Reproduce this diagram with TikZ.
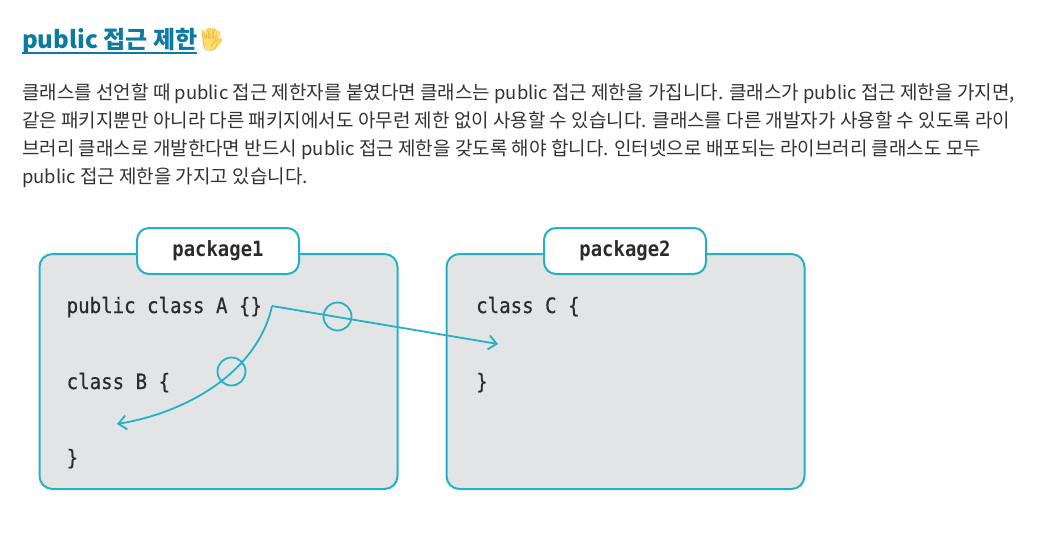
\documentclass[tikz,border=0pt]{standalone}
\usepackage{fontspec}
\usetikzlibrary{arrows.meta}
\setmainfont{Noto Sans CJK KR}
\newfontfamily\codefont[FakeStretch=0.9,FakeBold=0.5]{DejaVu Sans Mono}
\newfontfamily\tabfont[FakeStretch=0.9]{DejaVu Sans Mono Bold}
\newfontfamily\emojifont{Noto Emoji}
\newcommand{\pub}{{\fontsize{18.4}{20}\selectfont public}}
\definecolor{linkblue}{HTML}{0C7BA3}
\definecolor{bodygray}{HTML}{333333}
\definecolor{codegray}{HTML}{2B2B2B}
\definecolor{pkgcyan}{HTML}{25B1C4}
\definecolor{pkgfill}{HTML}{E3E4E6}
\definecolor{handyellow}{HTML}{FFDC6B}
\definecolor{handline}{HTML}{E8B93F}
\tikzset{
    para/.style={anchor=base west,inner sep=0pt,text=bodygray,font=\fontsize{19}{22}\selectfont},
    pkg/.style={draw=pkgcyan,fill=pkgfill,line width=2pt,rounded corners=13pt,minimum width=358pt,minimum height=235pt,inner sep=0pt},
    tab/.style={draw=pkgcyan,fill=white,line width=2pt,rounded corners=12pt,minimum width=162pt,minimum height=46pt,inner sep=0pt,text=codegray,font=\fontsize{21}{24}\tabfont},
    code/.style={anchor=base west,inner sep=0pt,text=codegray,font=\fontsize{21.2}{24}\codefont},
    ring/.style={circle,draw=pkgcyan,line width=1.8pt,minimum size=28pt,inner sep=0pt},
    link/.style={draw=pkgcyan,line width=1.8pt,-{Straight Barb[length=8pt,width=14pt]}},
    finger/.style={draw=handyellow,line width=3.6pt,line cap=round}
}
\begin{document}
\begin{tikzpicture}[x=1pt,y=-1pt]
    \useasboundingbox (0,0) rectangle (1047,549);

    % heading
    \node[anchor=base west,inner sep=0pt,text=linkblue,font=\fontsize{24}{28}\bfseries\selectfont] (title) at (22,48) {public 접근 제한};
    \draw[linkblue,line width=2.4pt] (title.base west) ++(0,5) -- ++(175,0);

    % hand, painted under its glyph
    \fill[handyellow] (211,42) circle (8pt);
    \draw[finger] (205,40) -- (203,31);
    \draw[finger] (209,38) -- (208.5,29);
    \draw[finger] (213,38) -- (214,29);
    \draw[finger] (216,40) -- (219,32);
    \draw[finger] (217,44) -- (220.5,40);
    \node[anchor=west,inner sep=0pt,text=handline,font=\fontsize{22}{26}\selectfont] (hand) at (title.east) {\emojifont 🖐};

    % paragraph
    \node[para] (l1) at (22,99) {클래스를 선언할 때 \pub{} 접근 제한자를 붙였다면 클래스는 \pub{} 접근 제한을 가집니다. 클래스가 \pub{} 접근 제한을 가지면,};
    \node[para] (l2) at (22,127) {같은 패키지뿐만 아니라 다른 패키지에서도 아무런 제한 없이 사용할 수 있습니다. 클래스를 다른 개발자가 사용할 수 있도록 라이};
    \node[para] (l3) at (22,155) {브러리 클래스로 개발한다면 반드시 \pub{} 접근 제한을 갖도록 해야 합니다. 인터넷으로 배포되는 라이브러리 클래스도 모두};
    \node[para] (l4) at (22,183) {\pub{} 접근 제한을 가지고 있습니다.};

    % packages
    \node[pkg] (p1) at (218.5,371.5) {};
    \node[pkg] (p2) at (625.5,371.5) {};
    \node[tab] (t1) at (218,251) {package1};
    \node[tab] (t2) at (625,251) {package2};

    % code
    \node[code] (a) at (66.5,313) {public class A \{\}};
    \node[code] (b) at (66.5,389) {class B \{};
    \node[code] (be) at (66.5,465) {\}};
    \node[code] (c) at (476,313) {class C \{};
    \node[code] (ce) at (476,389) {\}};

    % arrows
    \coordinate (from) at (272,306);
    \coordinate (toc) at (498,344);
    \coordinate (tob) at (117,424);
    \draw[link] (from) -- (toc);
    \draw[link] (from) .. controls (258,370) and (190,412) .. (tob);
    \node[ring] (r1) at (337.5,316.5) {};
    \node[ring] (r2) at (231.5,371.5) {};
\end{tikzpicture}
\end{document}
